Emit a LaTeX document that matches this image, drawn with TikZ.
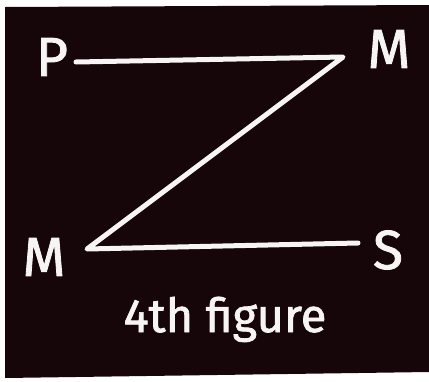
\documentclass[tikz,border=0pt]{standalone}
\usepackage{fontspec}
\setmainfont{Fira Sans}
\newfontfamily\chalkfont{Fira Sans}[FakeBold=1.5]
\usetikzlibrary{positioning}
\definecolor{boardblack}{RGB}{22, 6, 10}
\definecolor{chalkwhite}{RGB}{246, 244, 244}

\begin{document}
\begin{tikzpicture}[
    x=1pt, y=-1pt,
    chalk/.style={draw=chalkwhite, line width=5pt, line cap=round, line join=round},
    letter/.style={text=chalkwhite, inner sep=0pt, font=\chalkfont\fontsize{55}{55}\selectfont},
    caption/.style={text=chalkwhite, inner sep=0pt, font=\chalkfont\fontsize{47}{47}\selectfont}
]

% === Board ===
\fill[white] (0, 0) rectangle (429, 381);
\fill[boardblack] (5, 7) -- (429, 5) -- (429, 372) -- (5, 378) -- cycle;
\useasboundingbox (0, 0) rectangle (429, 381);

% === Letters ===
\node[letter] (p) at (52, 57) {P};
\node[letter] (mtop) at (389, 49) {M};
\node[letter] (mbot) at (44, 257) {M};
\node[letter] (s) at (388, 250) {S};

% === Line ends ===
\coordinate (pend) at (76, 62);
\coordinate (apex) at (343, 57);
\coordinate (corner) at (87, 249);
\coordinate (send) at (358, 243);

% === The Z ===
\draw[chalk] (pend) -- (apex) -- (corner) -- (send);

% === Caption ===
\node[caption, anchor=base] (cap) at (225, 332) {4th figure};

\end{tikzpicture}
\end{document}
